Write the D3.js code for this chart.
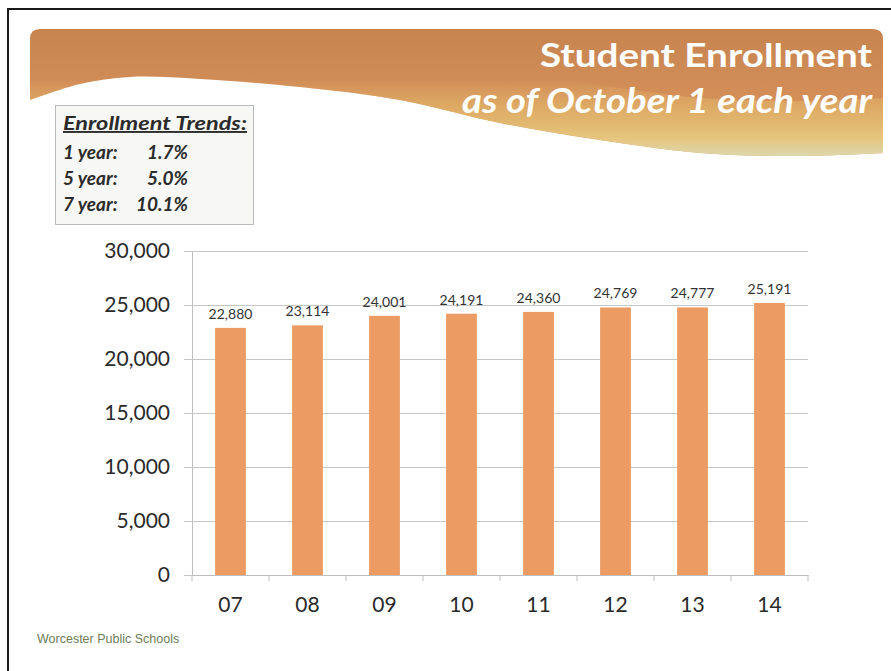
<!DOCTYPE html>
<html lang="en">
<head>
    <meta charset="UTF-8">
    <title>Student Enrollment</title>

    <script src="https://d3js.org/d3.v7.min.js"></script>

    <style>
        body {
            margin: 0;
            background: #fff;
        }

        svg {
            display: block;
            font-family: Lato, "Open Sans", sans-serif;
        }
    </style>

    <script>

        // school years (fall of 20xx) and students enrolled on October 1
        const years = ["07", "08", "09", "10", "11", "12", "13", "14"];
        const enrollment = [22880, 23114, 24001, 24191, 24360, 24769, 24777, 25191];
        const yTicks = [0, 5000, 10000, 15000, 20000, 25000, 30000];

        const trendPeriods = ["1 year:", "5 year:", "7 year:"];
        const trendValues = ["1.7%", "5.0%", "10.1%"];

        document.addEventListener("DOMContentLoaded", () => makeGraph());

        function makeGraph() {
            const width = 891;
            const height = 671;

            let svg = d3.select('svg')
                .attr("width", width)
                .attr("height", height);

            // scanned page frame
            svg.append("path")
                .attr("d", "M8,680 L8,9 L900,9")
                .attr("fill", "none")
                .attr("stroke", "#1a1a1a")
                .attr("stroke-width", 2);

            // --- banner ---
            const defs = svg.append("defs");
            const base = defs.append("linearGradient")
                .attr("id", "bannerBase")
                .attr("gradientUnits", "userSpaceOnUse")
                .attr("x1", 0).attr("y1", 29).attr("x2", 0).attr("y2", 156);
            base.append("stop").attr("offset", "0%").attr("stop-color", "#c7844f");
            base.append("stop").attr("offset", "50%").attr("stop-color", "#d38e58");
            base.append("stop").attr("offset", "100%").attr("stop-color", "#d99a5e");

            const band = defs.append("linearGradient")
                .attr("id", "bannerBand")
                .attr("gradientUnits", "userSpaceOnUse")
                .attr("x1", 0).attr("y1", 80).attr("x2", 0).attr("y2", 156);
            band.append("stop").attr("offset", "0%").attr("stop-color", "#e2b46c").attr("stop-opacity", 0);
            band.append("stop").attr("offset", "35%").attr("stop-color", "#e0b066").attr("stop-opacity", 0.8);
            band.append("stop").attr("offset", "75%").attr("stop-color", "#e6c47c").attr("stop-opacity", 1);
            band.append("stop").attr("offset", "100%").attr("stop-color", "#dcd8ac").attr("stop-opacity", 1);

            const wave = [[883, 153], [800, 156], [700, 153], [600, 140], [500, 123],
                [400, 100], [300, 87], [200, 79], [130, 77], [80, 84], [30, 100]];
            const waveLine = d3.line().curve(d3.curveCatmullRom.alpha(0.5));

            svg.append("path")
                .attr("d", "M30,39 Q30,29 40,29 L873,29 Q883,29 883,39 L" + waveLine(wave).slice(1) + " Z")
                .attr("fill", "url(#bannerBase)");

            const upper = wave.map(p => [p[0], p[1] - (p[0] > 260 ? 55 : 25)]).reverse();
            svg.append("path")
                .attr("d", waveLine(wave) + " L" + waveLine(upper).slice(1) + " Z")
                .attr("fill", "url(#bannerBand)");

            svg.append("text")
                .attr("x", 872).attr("y", 67)
                .attr("text-anchor", "end")
                .attr("fill", "#fff")
                .style("font-size", "33px")
                .style("font-weight", "bold")
                .attr("textLength", 332)
                .attr("lengthAdjust", "spacingAndGlyphs")
                .text("Student Enrollment");

            svg.append("text")
                .attr("x", 872).attr("y", 113)
                .attr("text-anchor", "end")
                .attr("fill", "#fff")
                .style("font-size", "34px")
                .style("font-weight", "bold")
                .style("font-style", "italic")
                .attr("textLength", 410)
                .attr("lengthAdjust", "spacingAndGlyphs")
                .text("as of October 1 each year");

            // --- trends box ---
            svg.append("rect")
                .attr("x", 55.5).attr("y", 105.5)
                .attr("width", 198).attr("height", 119)
                .attr("fill", "#f7f7f5")
                .attr("stroke", "#b9bcbc")
                .attr("stroke-width", 1);

            svg.append("text")
                .attr("x", 63).attr("y", 130)
                .attr("fill", "#2b2b2b")
                .style("font-size", "19px")
                .style("font-weight", "bold")
                .style("font-style", "italic")
                .style("text-decoration", "underline")
                .attr("textLength", 184)
                .attr("lengthAdjust", "spacingAndGlyphs")
                .text("Enrollment Trends:");

            const rows = svg.append("g")
                .style("font-size", "19px")
                .style("font-weight", "bold")
                .style("font-style", "italic")
                .attr("fill", "#2b2b2b");

            rows.selectAll("text.period")
                .data(trendPeriods)
                .enter()
                .append("text")
                .attr("class", "period")
                .attr("x", 63)
                .attr("y", (d, i) => 159 + i * 26)
                .text(d => d);

            rows.selectAll("text.value")
                .data(trendValues)
                .enter()
                .append("text")
                .attr("class", "value")
                .attr("x", 188)
                .attr("y", (d, i) => 159 + i * 26)
                .attr("text-anchor", "end")
                .text(d => d);

            // --- chart ---
            const plot = {left: 192, right: 808, top: 251, bottom: 575};

            let xScale = d3.scaleBand().domain(years).range([plot.left, plot.right])
                .paddingInner(0.6).paddingOuter(0.3);
            let yScale = d3.scaleLinear().domain([0, 30000]).range([plot.bottom, plot.top]);

            // gridlines + y labels
            const yAxis = svg.append("g")
                .attr("transform", `translate(${plot.left}, 0)`)
                .call(d3.axisLeft(yScale)
                    .tickValues(yTicks)
                    .tickFormat(d3.format(","))
                    .tickSize(-(plot.right - plot.left))
                    .tickPadding(22));
            yAxis.select(".domain").attr("stroke", "#bdbdbd");
            yAxis.selectAll(".tick line")
                .attr("x1", -8)
                .attr("stroke", "#c6c6c6");
            yAxis.selectAll(".tick text")
                .attr("fill", "#2a2a2a")
                .style("font-family", "Lato, sans-serif")
                .style("font-size", "21px");

            // bars
            svg.selectAll('rect.bar')
                .data(enrollment)
                .enter()
                .append('rect')
                .attr("class", "bar")
                .attr("x", (d, i) => xScale(years[i]))
                .attr("y", d => yScale(d))
                .attr("width", xScale.bandwidth())
                .attr("height", d => plot.bottom - yScale(d))
                .attr("fill", "#ec9c62");

            // value labels
            svg.selectAll('text.val')
                .data(enrollment)
                .enter()
                .append('text')
                .attr("class", "val")
                .attr("x", (d, i) => xScale(years[i]) + xScale.bandwidth() / 2)
                .attr("y", d => yScale(d) - 9)
                .attr("text-anchor", "middle")
                .attr("fill", "#333")
                .style("font-size", "14px")
                .text(d => d3.format(",")(d));

            // x axis with ticks at band boundaries
            const xAxis = svg.append("g")
                .attr("transform", `translate(0, ${plot.bottom})`)
                .call(d3.axisBottom(xScale).tickSize(0).tickPadding(22));
            xAxis.select(".domain").attr("stroke", "#bdbdbd");
            xAxis.selectAll(".tick text")
                .attr("fill", "#2a2a2a")
                .style("font-family", "Lato, sans-serif")
                .style("font-size", "21px");

            const step = xScale.step();
            const edges = d3.range(years.length + 1).map(i => plot.left + i * step);
            xAxis.selectAll("line.edge")
                .data(edges)
                .enter()
                .append("line")
                .attr("class", "edge")
                .attr("x1", d => d).attr("x2", d => d)
                .attr("y1", 0).attr("y2", 6)
                .attr("stroke", "#bdbdbd");

            // footer
            svg.append("text")
                .attr("x", 37).attr("y", 643)
                .attr("fill", "#6f7c57")
                .style("font-family", "Arial, 'Liberation Sans', sans-serif")
                .style("font-size", "12.5px")
                .text("Worcester Public Schools");
        }

    </script>

</head>
<body>

    <svg></svg>

</body>
</html>
